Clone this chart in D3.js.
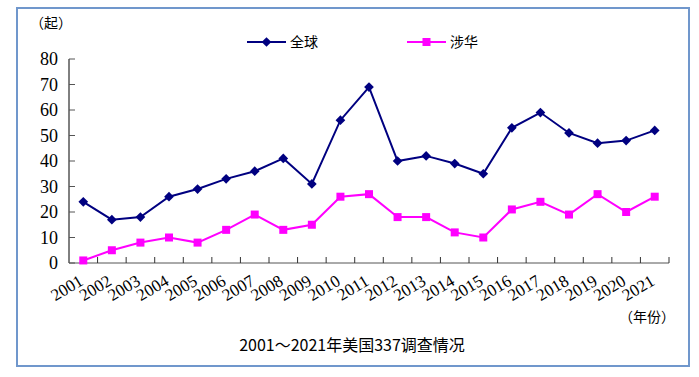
<!DOCTYPE html>
<html>
<head>
<meta charset="utf-8">
<script src="https://cdn.jsdelivr.net/npm/d3@7"></script>
<style>
  svg text.num { font-family: "Liberation Serif", "Times New Roman", serif; }
  svg text.cjk { font-family: "Noto Sans CJK SC", sans-serif; }
</style>
</head>
<body style="margin:0; background:#fff">
<script>
var years = ["2001", "2002", "2003", "2004", "2005", "2006", "2007", "2008", "2009", "2010", "2011",
  "2012", "2013", "2014", "2015", "2016", "2017", "2018", "2019", "2020", "2021"];
var globalCases = [24, 17, 18, 26, 29, 33, 36, 41, 31, 56, 69, 40, 42, 39, 35, 53, 59, 51, 47, 48, 52];
var chinaCases = [1, 5, 8, 10, 8, 13, 19, 13, 15, 26, 27, 18, 18, 12, 10, 21, 24, 19, 27, 20, 26];
var yTicks = [0, 10, 20, 30, 40, 50, 60, 70, 80];

var svgWidth = 699;
var svgHeight = 377;

var serifFont = "Liberation Serif";
var cjkFont = "Noto Sans CJK SC";

// plot area inside the frame
var margin = { top: 59, right: 30, bottom: 114, left: 69 };
var width = svgWidth - margin.left - margin.right;
var height = svgHeight - margin.top - margin.bottom;

var svg = d3.select("body")
  .append("svg")
  .attr("width", svgWidth)
  .attr("height", svgHeight);

// outer frame
svg.append("rect")
  .attr("x", 17).attr("y", 8)
  .attr("width", 672).attr("height", 358)
  .attr("fill", "none")
  .attr("stroke", "#7097cc")
  .attr("stroke-width", 2);

var chartGroup = svg.append("g")
  .attr("transform", `translate(${margin.left}, ${margin.top})`);

var x_scale = d3.scaleBand()
  .domain(years)
  .range([0, width])
  .padding(0);

var y_scale = d3.scaleLinear()
  .domain([0, 80])
  .range([height, 0]);

// y axis: labels drawn by hand so the font sticks, ticks pointing inward
var yAxis = chartGroup.append("g");
yAxis.append("line")
  .attr("x1", 0).attr("x2", 0)
  .attr("y1", y_scale(0)).attr("y2", y_scale(80))
  .attr("stroke", "#000");
yAxis.selectAll(".ytick")
  .data(yTicks)
  .enter()
  .append("line")
  .attr("x1", 0).attr("x2", 6)
  .attr("y1", d => y_scale(d)).attr("y2", d => y_scale(d))
  .attr("stroke", "#555");
yAxis.selectAll(".ylabel")
  .data(yTicks)
  .enter()
  .append("text")
  .attr("class", "num")
  .attr("x", -11)
  .attr("y", d => y_scale(d))
  .attr("dy", "0.34em")
  .attr("text-anchor", "end")
  .attr("font-family", serifFont)
  .attr("font-size", 18)
  .attr("fill", "#000")
  .text(d => d);

// x axis line + boundary ticks
var xAxis = chartGroup.append("g")
  .attr("transform", `translate(0, ${height})`);

xAxis.append("line")
  .attr("x1", 0).attr("x2", width)
  .attr("stroke", "#555");

var bounds = years.map(d => x_scale(d)).concat([width]);
xAxis.selectAll(".xtick")
  .data(bounds.slice(1))
  .enter()
  .append("line")
  .attr("x1", d => d).attr("x2", d => d)
  .attr("y1", 0).attr("y2", -6)
  .attr("stroke", "#333");

xAxis.selectAll(".xlabel")
  .data(years)
  .enter()
  .append("text")
  .attr("class", "num")
  .attr("transform", d => `translate(${x_scale(d) + x_scale.bandwidth() / 2 + 1}, 21) rotate(-31)`)
  .attr("text-anchor", "end")
  .attr("font-family", serifFont)
  .attr("font-size", 17)
  .attr("fill", "#000")
  .text(d => d);

var cx = d => x_scale(d) + x_scale.bandwidth() / 2;

var line = function (values) {
  return d3.line()
    .x((d, i) => cx(years[i]))
    .y(d => y_scale(d))(values);
};

// 全球 series
chartGroup.append("path")
  .attr("d", line(globalCases))
  .attr("fill", "none")
  .attr("stroke", "#000080")
  .attr("stroke-width", 2);

chartGroup.selectAll(".gdot")
  .data(globalCases)
  .enter()
  .append("path")
  .attr("d", d3.symbol().type(d3.symbolDiamond2).size(60))
  .attr("transform", (d, i) => `translate(${cx(years[i])}, ${y_scale(d)})`)
  .attr("fill", "#000080");

// 涉华 series
chartGroup.append("path")
  .attr("d", line(chinaCases))
  .attr("fill", "none")
  .attr("stroke", "#ff00ff")
  .attr("stroke-width", 2);

chartGroup.selectAll(".cdot")
  .data(chinaCases)
  .enter()
  .append("rect")
  .attr("x", (d, i) => cx(years[i]) - 4)
  .attr("y", d => y_scale(d) - 4)
  .attr("width", 8).attr("height", 8)
  .attr("fill", "#ff00ff");

// legend
var legend = [
  { name: "全球", color: "#000080", x: 247 },
  { name: "涉华", color: "#ff00ff", x: 407 }
];
legend.forEach(function (l) {
  var g = svg.append("g").attr("transform", `translate(${l.x}, 42)`);
  g.append("line")
    .attr("x1", 0).attr("x2", 39)
    .attr("stroke", l.color).attr("stroke-width", 2);
  if (l.name === "全球") {
    g.append("path")
      .attr("d", d3.symbol().type(d3.symbolDiamond2).size(60))
      .attr("transform", "translate(19.5, 0)")
      .attr("fill", l.color);
  } else {
    g.append("rect")
      .attr("x", 15.5).attr("y", -4)
      .attr("width", 8).attr("height", 8)
      .attr("fill", l.color);
  }
  g.append("text")
    .attr("class", "cjk")
    .attr("x", 43).attr("y", 5)
    .attr("font-family", cjkFont)
    .attr("font-size", 14)
    .attr("fill", "#000")
    .text(l.name);
});

// unit labels
svg.append("text")
  .attr("class", "cjk")
  .attr("x", 30).attr("y", 28)
  .attr("font-family", cjkFont)
  .attr("font-size", 14)
  .attr("fill", "#000")
  .text("（起）");

svg.append("text")
  .attr("class", "cjk")
  .attr("x", 619).attr("y", 322)
  .attr("font-family", cjkFont)
  .attr("font-size", 14)
  .attr("fill", "#000")
  .text("（年份）");

// title
svg.append("text")
  .attr("class", "cjk")
  .attr("x", 352).attr("y", 351)
  .attr("text-anchor", "middle")
  .attr("font-family", cjkFont)
  .attr("font-size", 16)
  .attr("fill", "#000")
  .text("2001～2021年美国337调查情况");
</script>
</body>
</html>
